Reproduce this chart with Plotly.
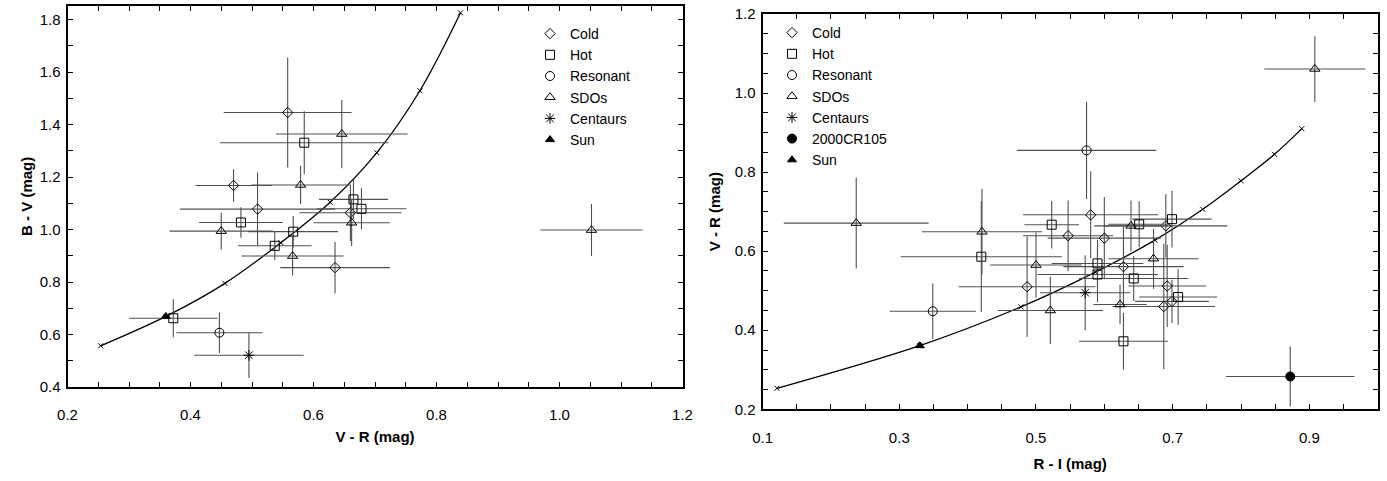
import plotly.graph_objects as go

# ---------------- Left panel: V-R vs B-V ----------------
cold_vr = [0.558, 0.470, 0.509, 0.660, 0.635]
cold_bv = [1.446, 1.168, 1.078, 1.064, 0.855]
cold_vr_err = [0.104, 0.062, 0.126, 0.083, 0.089]
cold_bv_err = [0.210, 0.062, 0.139, 0.108, 0.098]

hot_vr = [0.585, 0.665, 0.678, 0.482, 0.567, 0.537, 0.372]
hot_bv = [1.331, 1.115, 1.079, 1.027, 0.992, 0.938, 0.662]
hot_vr_err = [0.137, 0.056, 0.073, 0.068, 0.073, 0.060, 0.072]
hot_bv_err = [0.120, 0.075, 0.078, 0.058, 0.060, 0.054, 0.072]

res_vr = [0.447]
res_bv = [0.607]
res_vr_err = [0.070]
res_bv_err = [0.077]

sdo_vr = [0.646, 0.579, 0.662, 0.450, 0.566, 1.052]
sdo_bv = [1.364, 1.170, 1.026, 0.994, 0.899, 0.998]
sdo_vr_err = [0.107, 0.080, 0.062, 0.084, 0.083, 0.083]
sdo_bv_err = [0.130, 0.073, 0.089, 0.070, 0.074, 0.099]

cen_vr = [0.495]
cen_bv = [0.521]
cen_vr_err = [0.089]
cen_bv_err = [0.087]

sun_vr = [0.360]
sun_bv = [0.669]

# reddening line (colours for increasing spectral slope)
red_vr = [0.254, 0.360, 0.456, 0.547, 0.627, 0.703, 0.773, 0.839]
red_bv = [0.557, 0.669, 0.795, 0.950, 1.104, 1.293, 1.529, 1.826]

# ---------------- Right panel: R-I vs V-R ----------------
cold_ri = [0.580, 0.547, 0.600, 0.690, 0.487, 0.628, 0.692, 0.699, 0.687]
cold_vr2 = [0.692, 0.639, 0.633, 0.664, 0.510, 0.561, 0.512, 0.473, 0.460]
cold_ri_err = [0.099, 0.066, 0.083, 0.090, 0.100, 0.088, 0.057, 0.054, 0.075]
cold_vr2_err = [0.110, 0.089, 0.104, 0.080, 0.127, 0.100, 0.104, 0.055, 0.159]

hot_ri = [0.420, 0.523, 0.651, 0.699, 0.590, 0.590, 0.643, 0.708, 0.628]
hot_vr2 = [0.586, 0.667, 0.668, 0.681, 0.569, 0.541, 0.531, 0.484, 0.372]
hot_ri_err = [0.118, 0.040, 0.045, 0.058, 0.067, 0.088, 0.080, 0.057, 0.065]
hot_vr2_err = [0.140, 0.060, 0.058, 0.072, 0.060, 0.070, 0.057, 0.070, 0.072]

res_ri = [0.349, 0.574]
res_vr2 = [0.448, 0.855]
res_ri_err = [0.063, 0.102]
res_vr2_err = [0.070, 0.123]

sdo_ri = [0.237, 0.421, 0.500, 0.521, 0.639, 0.672, 0.623, 0.908]
sdo_vr2 = [0.671, 0.649, 0.565, 0.450, 0.664, 0.581, 0.465, 1.061]
sdo_ri_err = [0.106, 0.088, 0.067, 0.077, 0.054, 0.066, 0.039, 0.074]
sdo_vr2_err = [0.115, 0.108, 0.083, 0.085, 0.064, 0.076, 0.050, 0.083]

cen_ri = [0.572]
cen_vr2 = [0.495]
cen_ri_err = [0.066]
cen_vr2_err = [0.095]

cr105_ri = [0.872]
cr105_vr = [0.283]
cr105_ri_err = [0.094]
cr105_vr_err = [0.076]

sun_ri = [0.330]
sun_vr2 = [0.361]

red_ri = [0.121, 0.330, 0.478, 0.587, 0.674, 0.744, 0.800, 0.849, 0.889]
red_vr2 = [0.253, 0.361, 0.459, 0.547, 0.628, 0.706, 0.778, 0.845, 0.910]

FONT = "Arial, Liberation Sans, sans-serif"
TITLE_FONT = dict(family="Liberation Sans Narrow, Arial Narrow, Arial, sans-serif",
                  size=15, color="black", weight="bold")
ERR_COLOR = "#505050"


def err(vals):
    return dict(type="data", array=vals, visible=True, width=0,
                thickness=1.1, color=ERR_COLOR)


def group(name, x, y, ex, ey, symbol, size, xa, ya, legend):
    return go.Scatter(
        x=x, y=y, mode="markers", name=name,
        xaxis=xa, yaxis=ya, legend=legend,
        error_x=err(ex) if ex is not None else None,
        error_y=err(ey) if ey is not None else None,
        marker=dict(symbol=symbol, size=size, color="black",
                    line=dict(color="black", width=1)),
    )


def curve(x, y, xa, ya):
    return go.Scatter(
        x=x, y=y, mode="lines+markers", showlegend=False,
        xaxis=xa, yaxis=ya, line=dict(color="black", width=1.3, shape="spline"),
        marker=dict(symbol="x-thin-open", size=5, color="black",
                    line=dict(color="black", width=1)),
        hoverinfo="skip",
    )


fig = go.Figure()

# left panel
fig.add_trace(curve(red_vr, red_bv, "x", "y"))
fig.add_trace(group("Cold", cold_vr, cold_bv, cold_vr_err, cold_bv_err, "diamond-open", 8, "x", "y", "legend"))
fig.add_trace(group("Hot", hot_vr, hot_bv, hot_vr_err, hot_bv_err, "square-open", 9, "x", "y", "legend"))
fig.add_trace(group("Resonant", res_vr, res_bv, res_vr_err, res_bv_err, "circle-open", 9, "x", "y", "legend"))
fig.add_trace(group("SDOs", sdo_vr, sdo_bv, sdo_vr_err, sdo_bv_err, "triangle-up-open", 9, "x", "y", "legend"))
fig.add_trace(group("Centaurs", cen_vr, cen_bv, cen_vr_err, cen_bv_err, "asterisk-open", 9, "x", "y", "legend"))
fig.add_trace(group("Sun", sun_vr, sun_bv, None, None, "triangle-up", 8, "x", "y", "legend"))

# right panel
fig.add_trace(curve(red_ri, red_vr2, "x2", "y2"))
fig.add_trace(group("Cold", cold_ri, cold_vr2, cold_ri_err, cold_vr2_err, "diamond-open", 8, "x2", "y2", "legend2"))
fig.add_trace(group("Hot", hot_ri, hot_vr2, hot_ri_err, hot_vr2_err, "square-open", 9, "x2", "y2", "legend2"))
fig.add_trace(group("Resonant", res_ri, res_vr2, res_ri_err, res_vr2_err, "circle-open", 9, "x2", "y2", "legend2"))
fig.add_trace(group("SDOs", sdo_ri, sdo_vr2, sdo_ri_err, sdo_vr2_err, "triangle-up-open", 9, "x2", "y2", "legend2"))
fig.add_trace(group("Centaurs", cen_ri, cen_vr2, cen_ri_err, cen_vr2_err, "asterisk-open", 9, "x2", "y2", "legend2"))
fig.add_trace(group("2000CR105", cr105_ri, cr105_vr, cr105_ri_err, cr105_vr_err, "circle", 9, "x2", "y2", "legend2"))
fig.add_trace(group("Sun", sun_ri, sun_vr2, None, None, "triangle-up", 8, "x2", "y2", "legend2"))

W, H = 1387, 481


def axis_common(standoff):
    return dict(
        showgrid=False, zeroline=False, showline=True, linecolor="black",
        linewidth=2, mirror="allticks", ticks="inside", ticklen=5,
        tickwidth=1, tickcolor="black", tickformat=".1f",
        tickfont=dict(family=FONT, size=15, color="black"),
        ticklabelstandoff=standoff, automargin=False,
    )


fig.update_layout(
    width=W, height=H,
    margin=dict(l=0, r=0, t=0, b=0),
    paper_bgcolor="white", plot_bgcolor="white",
    font=dict(family=FONT, size=14, color="black"),
    xaxis=dict(**axis_common(13), domain=[67.5 / W, 682.5 / W], range=[0.2, 1.2],
               tick0=0.2, dtick=0.2,
               minor=dict(dtick=0.05, ticks="inside", ticklen=5, tickcolor="black"),
               title=dict(text="V - R (mag)", font=TITLE_FONT, standoff=9),
               anchor="y"),
    yaxis=dict(**axis_common(2), domain=[1 - 387 / H, 1 - 5.7 / H], range=[0.4, 1.853],
               tick0=0.4, dtick=0.2,
               minor=dict(dtick=0.1, ticks="inside", ticklen=5, tickcolor="black"),
               title=dict(text="B - V (mag)", font=TITLE_FONT, standoff=3),
               anchor="x"),
    xaxis2=dict(**axis_common(14), domain=[762.6 / W, 1377.7 / W], range=[0.1, 1.0],
                tick0=0.1, dtick=0.2,
                minor=dict(dtick=0.05, ticks="inside", ticklen=5, tickcolor="black"),
                title=dict(text="R - I (mag)", font=TITLE_FONT, standoff=13),
                anchor="y2"),
    yaxis2=dict(**axis_common(2), domain=[1 - 409.3 / H, 1 - 14 / H], range=[0.2, 1.2],
                tick0=0.2, dtick=0.2,
                minor=dict(dtick=0.05, ticks="inside", ticklen=5, tickcolor="black"),
                title=dict(text="V - R (mag)", font=TITLE_FONT, standoff=10),
                anchor="x2"),
    legend=dict(x=530 / W, y=1 - 18 / H, xanchor="left", yanchor="top",
                bgcolor="rgba(0,0,0,0)", font=dict(family=FONT, size=14),
                itemwidth=30, tracegroupgap=0),
    legend2=dict(x=772 / W, y=1 - 17 / H, xanchor="left", yanchor="top",
                 bgcolor="rgba(0,0,0,0)", font=dict(family=FONT, size=14),
                 itemwidth=30, tracegroupgap=0),
)

fig.write_html("out.html")
